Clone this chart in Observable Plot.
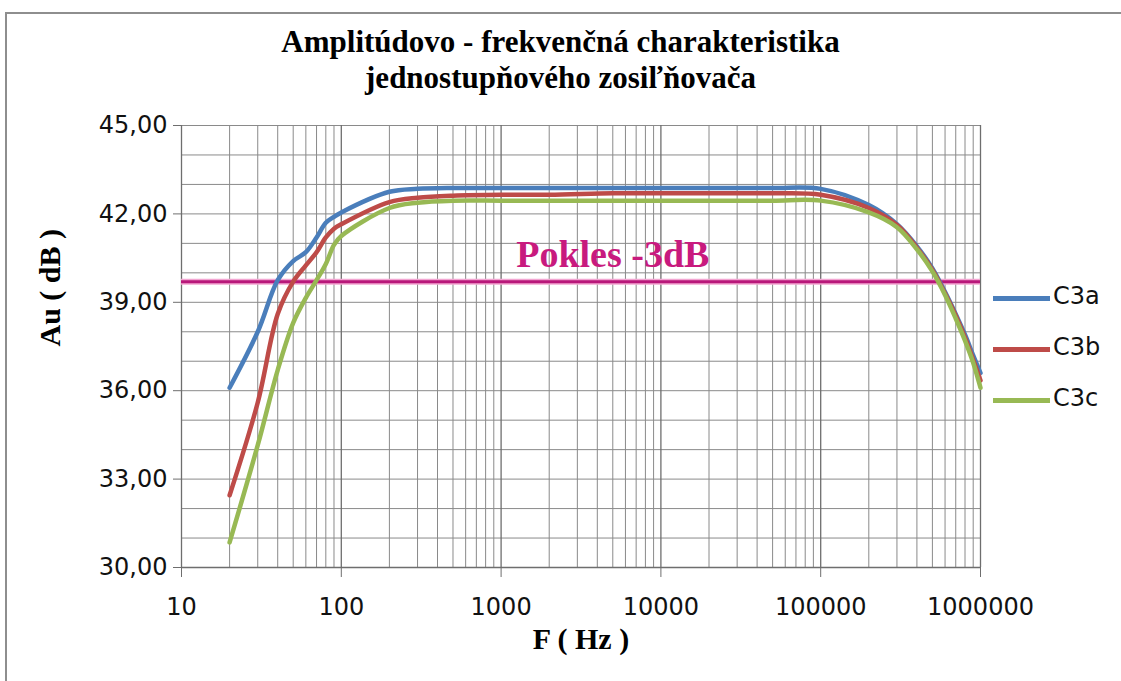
<!DOCTYPE html>
<html>
<head>
<meta charset="utf-8">
<script src="https://cdn.jsdelivr.net/npm/d3@7"></script>
<script src="https://cdn.jsdelivr.net/npm/@observablehq/plot@0.6"></script>
<style>
  html, body { margin: 0; padding: 0; background: #fff; }
  #wrap { position: relative; width: 1121px; height: 681px; overflow: hidden; background: #fff; }
  #frame { position: absolute; left: 5px; top: 12px; width: 1200px; height: 800px; border-left: 2px solid #8e8e8e; border-top: 2px solid #8e8e8e; }
  #title { position: absolute; top: 24px; left: 0; width: 1121px; text-align: center;
           font-family: "Liberation Serif", serif; font-weight: bold; font-size: 31px; line-height: 36px; color: #000; }
  #plot { position: absolute; left: 0; top: 100px; }
  #legend { position: absolute; left: 993px; top: 280px; font-family: "DejaVu Sans", sans-serif; font-size: 24px; color: #111; }
  .item { position: absolute; left: 0; height: 36px; width: 130px; }
  .swatch { position: absolute; left: 0; top: 16px; width: 57px; height: 5px; }
  .lab { position: absolute; left: 60px; top: 2px; }
</style>
</head>
<body>
<div id="wrap">
  <div id="frame"></div>
  <div id="title"></div>
  <div id="plot"></div>
  <div id="legend"></div>
</div>
<script>
// ---- data ----
const titleLines = ["Amplitúdovo - frekvenčná charakteristika", "jednostupňového zosiľňovača"];
const xLabel = "F ( Hz )";
const yLabel = "Au ( dB )";
const seriesNames = ["C3a", "C3b", "C3c"];
const seriesColors = ["#4a7ebb", "#be4b48", "#98b954"];

const freq = [20, 30, 40, 50, 60, 70, 80, 90, 100, 200, 300, 500, 1000, 2000, 5000, 10000, 20000, 50000,
              100000, 200000, 300000, 400000, 500000, 600000, 700000, 800000, 900000, 1000000];
const C3a = [36.1, 38.0, 39.75, 40.4, 40.7, 41.2, 41.7, 41.9, 42.05, 42.75, 42.85, 42.88, 42.88, 42.88, 42.88, 42.88, 42.88, 42.88,
             42.85, 42.3, 41.65, 40.9, 40.15, 39.35, 38.6, 37.9, 37.2, 36.6];
const C3b = [32.45, 35.6, 38.6, 39.7, 40.25, 40.7, 41.2, 41.5, 41.65, 42.4, 42.55, 42.62, 42.65, 42.65, 42.7, 42.7, 42.7, 42.7,
             42.65, 42.2, 41.62, 40.85, 40.1, 39.3, 38.55, 37.8, 37.05, 36.35];
const C3c = [30.85, 34.15, 36.7, 38.3, 39.15, 39.75, 40.3, 40.95, 41.25, 42.2, 42.38, 42.45, 42.45, 42.45, 42.45, 42.45, 42.45, 42.45,
             42.45, 42.05, 41.55, 40.8, 40.05, 39.25, 38.45, 37.7, 36.95, 36.1];

const xTicks = [10, 100, 1000, 10000, 100000, 1000000];
const yTicks = [30, 33, 36, 39, 42, 45];
const poklesValue = 39.7;
const poklesLabel = [{label: "Pokles -3dB", f: 5000, v: 40.6}];

// ---- build ----
const seriesValues = [C3a, C3b, C3c];
const table = seriesNames.flatMap((s, i) => freq.map((f, j) => ({series: s, f, v: seriesValues[i][j]})));
const minorX = xTicks.slice(0, -1).flatMap(d => [2, 3, 4, 5, 6, 7, 8, 9].map(k => k * d));
const yGrid = d3.range(30, 46, 1);

document.getElementById("title").innerHTML = titleLines.join("<br>");

const serif = "'Liberation Serif', serif";
const plot = Plot.plot({
  width: 1121,
  height: 581,
  marginTop: 25,
  marginBottom: 114,
  marginLeft: 181,
  marginRight: 141,
  style: {fontFamily: "'DejaVu Sans', sans-serif", fontSize: "24px", background: "transparent", color: "#111"},
  x: {type: "log", domain: [10, 1000000]},
  y: {domain: [30, 45]},
  color: {domain: seriesNames, range: seriesColors},
  marks: [
    Plot.ruleY(yGrid, {stroke: "#8a8a8a", strokeWidth: 1}),
    Plot.ruleX(minorX, {stroke: "#8a8a8a", strokeWidth: 1}),
    Plot.ruleX(xTicks, {stroke: "#6e6e6e", strokeWidth: 1.3}),
    Plot.ruleY([30], {stroke: "#6e6e6e", strokeWidth: 1.3}),
    Plot.axisX({ticks: xTicks, tickFormat: d => String(d), tickSize: 10, tickPadding: 20, stroke: "#6e6e6e", label: null}),
    Plot.axisY({ticks: yTicks, tickFormat: d => d.toFixed(2).replace(".", ","), tickSize: 8, tickPadding: 6, stroke: "#6e6e6e", label: null}),
    Plot.ruleY([poklesValue], {stroke: "#f3a6d2", strokeWidth: 6}),
    Plot.ruleY([poklesValue], {stroke: "#b8187a", strokeWidth: 3}),
    Plot.line(table, {x: "f", y: "v", z: "series", stroke: "series", strokeWidth: 4.5, curve: "catmull-rom"}),
    Plot.text(poklesLabel, {x: "f", y: "v", text: "label", fill: "#c81a7e", fontSize: 38, fontWeight: "bold", fontFamily: serif}),
    Plot.text([xLabel], {frameAnchor: "bottom", dy: 81, fontSize: 30, fontWeight: "bold", fontFamily: serif, fill: "#000"}),
    Plot.text([yLabel], {frameAnchor: "left", dx: -131, rotate: -90, fontSize: 30, fontWeight: "bold", fontFamily: serif, fill: "#000"})
  ]
});
document.getElementById("plot").appendChild(plot);

// legend
const legend = document.getElementById("legend");
seriesNames.forEach((s, i) => {
  const item = document.createElement("div");
  item.className = "item";
  item.style.top = (i * 51) + "px";
  item.innerHTML = `<div class="swatch" style="background:${seriesColors[i]}"></div><div class="lab">${s}</div>`;
  legend.appendChild(item);
});
</script>
</body>
</html>
